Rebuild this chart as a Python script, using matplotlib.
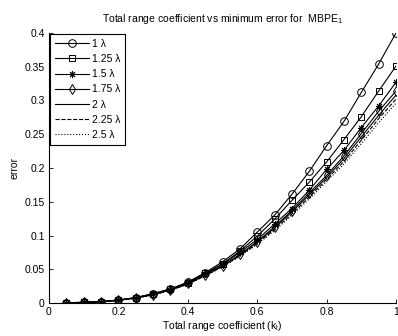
import matplotlib
matplotlib.use("Agg")
import matplotlib.pyplot as plt
import numpy as np

plt.rcParams['font.family'] = ['Liberation Sans', 'DejaVu Sans']
plt.rcParams['mathtext.fontset'] = 'custom'
plt.rcParams['mathtext.rm'] = 'Liberation Sans'
plt.rcParams['mathtext.it'] = 'Liberation Sans'

k = [0.05, 0.10, 0.15, 0.20, 0.25, 0.30, 0.35, 0.40, 0.45, 0.50,
     0.55, 0.60, 0.65, 0.70, 0.75, 0.80, 0.85, 0.90, 0.95, 1.00]

err_1 = [0.0003, 0.001, 0.002, 0.0045, 0.008, 0.014, 0.021, 0.031, 0.045, 0.061,
         0.080, 0.105, 0.130, 0.161, 0.195, 0.233, 0.269, 0.312, 0.354, 0.400]
err_125 = [0.0003, 0.001, 0.002, 0.0043, 0.008, 0.0135, 0.0205, 0.030, 0.044, 0.058,
           0.077, 0.099, 0.124, 0.152, 0.179, 0.209, 0.242, 0.276, 0.314, 0.351]
err_15 = [0.0003, 0.001, 0.002, 0.0042, 0.0078, 0.013, 0.020, 0.030, 0.043, 0.057,
          0.075, 0.094, 0.117, 0.140, 0.167, 0.198, 0.226, 0.260, 0.292, 0.327]
err_175 = [0.0002, 0.0008, 0.0018, 0.004, 0.0075, 0.0125, 0.0195, 0.029, 0.042, 0.055,
           0.072, 0.091, 0.113, 0.137, 0.163, 0.189, 0.218, 0.251, 0.284, 0.314]
err_2 = [0.0002, 0.0008, 0.0018, 0.004, 0.0074, 0.0123, 0.0192, 0.0285, 0.041, 0.0545,
         0.071, 0.090, 0.111, 0.135, 0.160, 0.186, 0.214, 0.246, 0.278, 0.308]
err_225 = [0.0002, 0.0008, 0.0017, 0.0039, 0.0073, 0.0121, 0.019, 0.028, 0.0405, 0.054,
           0.070, 0.088, 0.109, 0.132, 0.157, 0.183, 0.210, 0.241, 0.273, 0.302]
err_25 = [0.0002, 0.0008, 0.0017, 0.0038, 0.0072, 0.012, 0.0188, 0.0278, 0.040, 0.0535,
          0.069, 0.087, 0.107, 0.130, 0.154, 0.180, 0.206, 0.236, 0.267, 0.296]

labels = ['1 λ', '1.25 λ', '1.5 λ', '1.75 λ', '2 λ', '2.25 λ', '2.5 λ']
series = [err_1, err_125, err_15, err_175, err_2, err_225, err_25]
markers = ['o', 's', (8, 2, 0), 'd', None, None, None]
msizes = [5.5, 5, 5, 5.5, 0, 0, 0]
styles = ['-', '-', '-', '-', '-', '--', ':']

fig = plt.figure(figsize=(3.98, 3.36), dpi=100)
ax = fig.add_axes([49/398, 33/336, 347/398, 270/336])

for y, lab, m, ms, ls in zip(series, labels, markers, msizes, styles):
    ax.plot(k, y, color='black', linestyle=ls, linewidth=0.8, marker=m,
            markersize=ms, markerfacecolor='none',
            markeredgecolor='black', markeredgewidth=0.7, label=lab)

ax.set_xlim(0, 1)
ax.set_ylim(0, 0.4)
ax.set_xticks([0, 0.2, 0.4, 0.6, 0.8, 1.0])
ax.set_xticklabels(['0', '0.2', '0.4', '0.6', '0.8', '1'])
ax.set_yticks([0, 0.05, 0.1, 0.15, 0.2, 0.25, 0.3, 0.35, 0.4])
ax.set_yticklabels(['0', '0.05', '0.1', '0.15', '0.2', '0.25', '0.3', '0.35', '0.4'])
ax.tick_params(direction='in', length=3, width=0.6, labelsize=7.5, pad=3)
for s in ['top', 'right']:
    ax.spines[s].set_visible(False)
for s in ['left', 'bottom']:
    ax.spines[s].set_linewidth(0.8)

ax.set_title(r'Total range coefficient vs minimum error for  MBPE$_\mathrm{1}$', fontsize=7.5, pad=8)
ax.set_xlabel(r'Total range coefficient (k$_\mathrm{l}$)', fontsize=7.5, labelpad=1)
ax.set_ylabel('error', fontsize=7.5, labelpad=4)

leg = ax.legend(loc='upper left', fontsize=7.5, frameon=True, fancybox=False,
                edgecolor='black', framealpha=1, handlelength=3.3, borderpad=0.45,
                labelspacing=0.5, handletextpad=0.25, borderaxespad=0.1)
leg.get_frame().set_linewidth(0.8)

fig.savefig('out.png', dpi=100)
